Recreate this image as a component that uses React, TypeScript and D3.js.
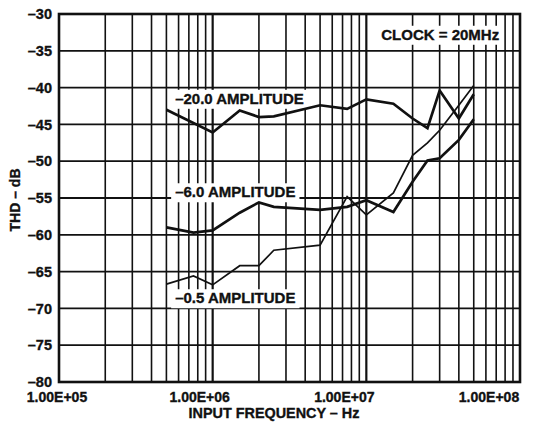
import { useEffect, useRef } from 'react'
import * as d3 from 'd3'

const freqs = [5e5, 7.5e5, 1e6, 1.5e6, 2e6, 2.5e6, 5e6, 7.5e6, 1e7, 1.5e7, 2e7, 2.5e7, 3e7, 4e7, 5e7]

const amp20Freqs = [5e5, 1e6, 1.5e6, 2e6, 2.5e6, 5e6, 7.5e6, 1e7, 1.5e7, 2e7, 2.5e7, 3e7, 4e7, 5e7]
const amp20 = [-43.0, -46.1, -43.1, -44.0, -43.9, -42.4, -42.9, -41.6, -42.2, -44.2, -45.5, -40.4, -44.2, -40.9]

const amp6 = [-59.0, -59.7, -59.4, -57.0, -55.6, -56.2, -56.6, -56.2, -55.3, -56.9, -52.8, -49.9, -49.6, -47.1, -44.3]

const amp05 = [-66.7, -65.6, -66.8, -64.2, -64.2, -62.1, -61.4, -54.8, -57.3, -54.3, -49.2, -47.5, -45.8, -42.4, -39.7]

const yTicks = [-80, -75, -70, -65, -60, -55, -50, -45, -40, -35, -30]
const xTicks = [1e5, 1e6, 1e7, 1e8]
const xTickLabels = ['1.00E+05', '1.00E+06', '1.00E+07', '1.00E+08']

const labels = [
  { text: '\u201320.0 AMPLITUDE', f: 5.7e5, v: -42.2 },
  { text: '\u20136.0 AMPLITUDE', f: 5.7e5, v: -54.9 },
  { text: '\u20130.5 AMPLITUDE', f: 5.7e5, v: -69.3 },
  { text: 'CLOCK = 20MHz', f: 1.25e7, v: -33.5 },
]

export default function App() {
  const ref = useRef<SVGSVGElement>(null)

  useEffect(() => {
    if (!ref.current) return
    const svg = d3.select(ref.current)
    svg.selectAll('*').remove()

    const left = 59, right = 520, top = 14, bottom = 382
    const x = d3.scaleLog().domain([1e5, 1e8]).range([left, right])
    const y = d3.scaleLinear().domain([-80, -30]).range([bottom, top])
    const font = 'Liberation Sans, Arial, Helvetica, sans-serif'
    const ink = '#111'

    svg.append('rect').attr('width', 552).attr('height', 424).attr('fill', '#fff')

    // grid
    const g = svg.append('g')
    const minor: number[] = []
    for (const d of [1e5, 1e6, 1e7]) {
      for (let k = 2; k <= 9; k++) minor.push(k * d)
    }
    g.selectAll('.vminor')
      .data(minor)
      .enter()
      .append('line')
      .attr('x1', d => x(d)).attr('x2', d => x(d))
      .attr('y1', top).attr('y2', bottom)
      .attr('stroke', ink).attr('stroke-width', 1.6)
    g.selectAll('.vmajor')
      .data([1e6, 1e7])
      .enter()
      .append('line')
      .attr('x1', d => x(d)).attr('x2', d => x(d))
      .attr('y1', top).attr('y2', bottom)
      .attr('stroke', ink).attr('stroke-width', 2.2)
    g.selectAll('.h')
      .data(yTicks.slice(1, -1))
      .enter()
      .append('line')
      .attr('x1', left).attr('x2', right)
      .attr('y1', d => y(d)).attr('y2', d => y(d))
      .attr('stroke', ink).attr('stroke-width', 1.8)

    const boldText = (sel: d3.Selection<SVGTextElement, any, any, any>, size: number) =>
      sel
        .attr('font-family', font)
        .attr('font-weight', 'bold')
        .attr('font-size', size)
        .attr('fill', ink)
        .attr('stroke', ink)
        .attr('stroke-width', 0.35)

    // label boxes + text
    labels.forEach(l => {
      const t = svg.append('text')
        .attr('x', x(l.f))
        .attr('y', y(l.v))
        .text(l.text)
      boldText(t, 15)
      const bb = (t.node() as SVGTextElement).getBBox()
      svg.insert('rect', () => t.node())
        .attr('x', bb.x - 4).attr('y', bb.y)
        .attr('width', bb.width + 8).attr('height', bb.height + 2)
        .attr('fill', '#fff')
    })

    // data lines
    const line = d3.line<[number, number]>().x(d => x(d[0])).y(d => y(d[1]))
    const series = [
      { xs: amp20Freqs, ys: amp20, w: 2.7 },
      { xs: freqs, ys: amp6, w: 2.7 },
      { xs: freqs, ys: amp05, w: 1.7 },
    ]
    series.forEach(s => {
      svg.append('path')
        .datum(s.xs.map((f, i) => [f, s.ys[i]] as [number, number]))
        .attr('d', line)
        .attr('fill', 'none')
        .attr('stroke', ink)
        .attr('stroke-width', s.w)
        .attr('stroke-linejoin', 'miter')
    })

    // frame
    svg.append('rect')
      .attr('x', left).attr('y', top)
      .attr('width', right - left).attr('height', bottom - top)
      .attr('fill', 'none').attr('stroke', ink).attr('stroke-width', 2.6)

    // y tick labels
    boldText(
      svg.selectAll('.ytl')
        .data(yTicks)
        .enter()
        .append('text')
        .attr('x', 52)
        .attr('y', d => y(d))
        .attr('dy', '0.36em')
        .attr('text-anchor', 'end')
        .text(d => (d < 0 ? '\u2013' + Math.abs(d) : String(d))),
      14.5
    )

    // x tick labels (original labels drift left of their gridlines)
    const xShift = [-2, -13, -22, -31]
    boldText(
      svg.selectAll('.xtl')
        .data(xTicks)
        .enter()
        .append('text')
        .attr('x', (d, i) => x(d) + xShift[i])
        .attr('y', 402)
        .attr('text-anchor', 'middle')
        .text((d, i) => xTickLabels[i]),
      14
    )

    boldText(
      svg.append('text')
        .attr('x', 274)
        .attr('y', 418)
        .attr('text-anchor', 'middle')
        .text('INPUT FREQUENCY \u2013 Hz'),
      14.4
    )

    boldText(
      svg.append('text')
        .attr('transform', `translate(20,${(top + bottom) / 2 + 2}) rotate(-90)`)
        .attr('text-anchor', 'middle')
        .text('THD \u2013 dB'),
      14
    )
  }, [])

  return (
    <svg
      ref={ref}
      width={552}
      height={424}
      style={{ position: 'absolute', left: 0, top: 0, display: 'block' }}
    />
  )
}
